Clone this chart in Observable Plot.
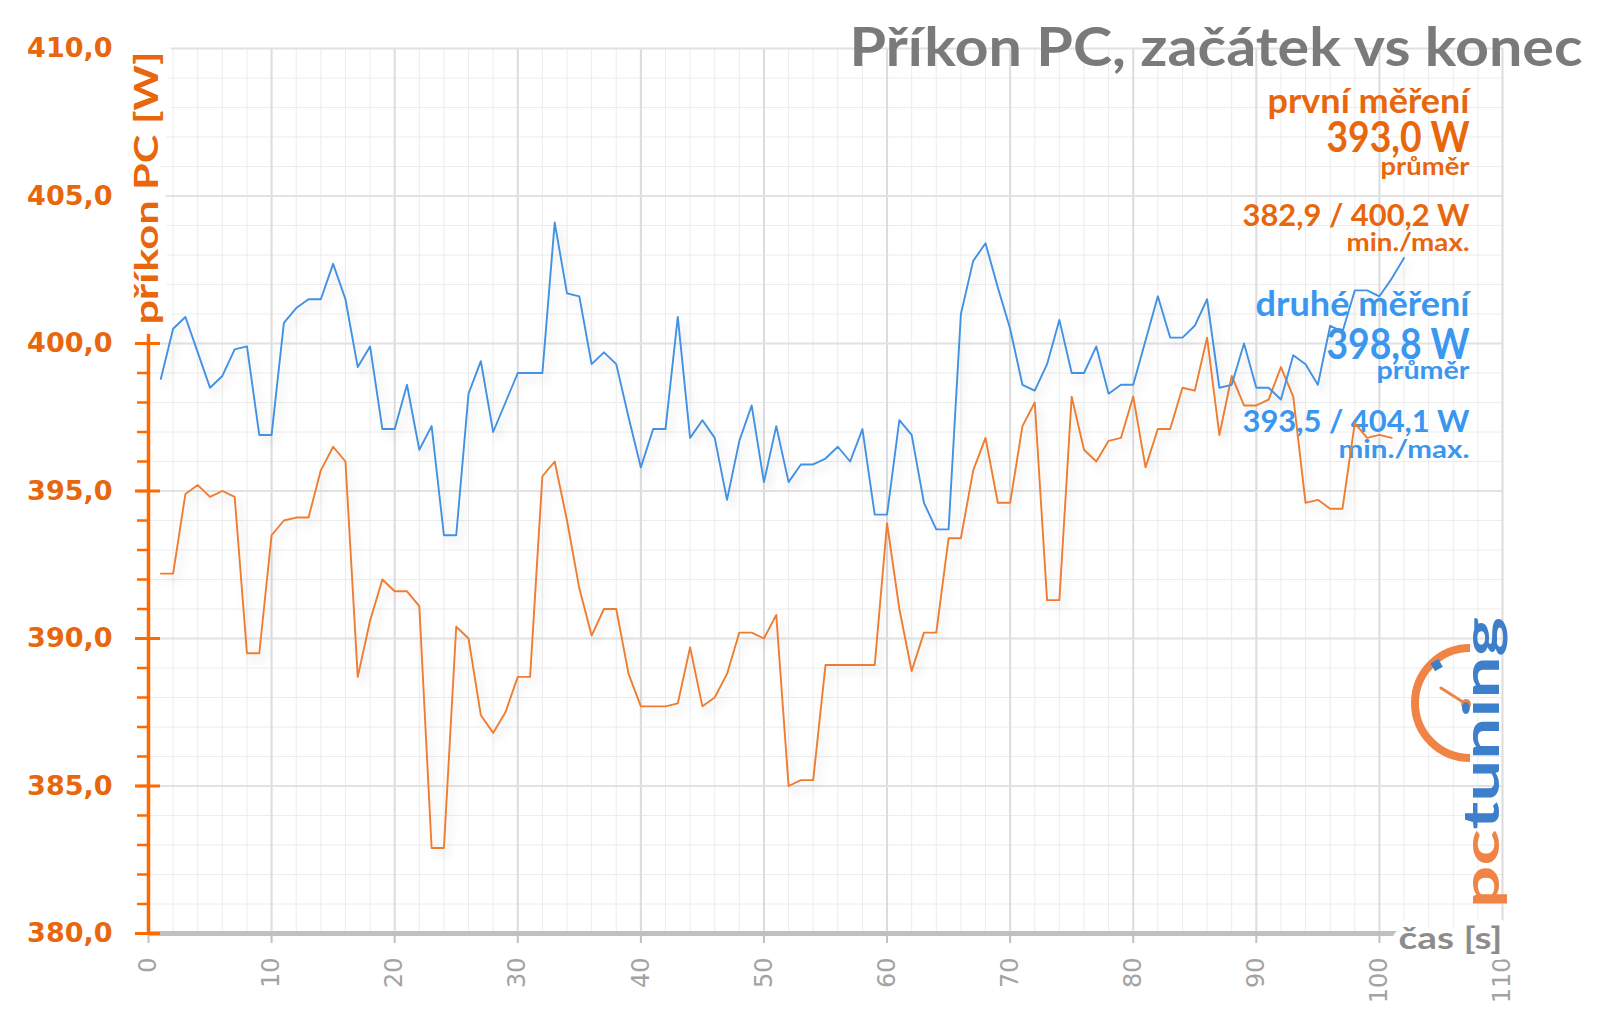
<!DOCTYPE html>
<html>
<head>
<meta charset="utf-8">
<script src="https://cdn.jsdelivr.net/npm/d3@7"></script>
<script src="https://cdn.jsdelivr.net/npm/@observablehq/plot@0.6"></script>
<style>
  html, body { margin: 0; padding: 0; background: #fff; }
  #wrap { position: relative; width: 1600px; height: 1017px; overflow: hidden; }
  #logo { position: absolute; left: 0; top: 0; pointer-events: none; }
</style>
</head>
<body>
<div id="wrap"><div id="chart"></div></div>
<script>
// ---------- data ----------
// power draw in W, one sample per second, starting at t = 1 s
const firstRun = [
  392.2, 392.2, 394.9, 395.2, 394.8, 395.0, 394.8, 389.5, 389.5, 393.5,
  394.0, 394.1, 394.1, 395.7, 396.5, 396.0, 388.7, 390.6, 392.0, 391.6,
  391.6, 391.1, 382.9, 382.9, 390.4, 390.0, 387.4, 386.8, 387.5, 388.7,
  388.7, 395.5, 396.0, 394.0, 391.7, 390.1, 391.0, 391.0, 388.8, 387.7,
  387.7, 387.7, 387.8, 389.7, 387.7, 388.0, 388.8, 390.2, 390.2, 390.0,
  390.8, 385.0, 385.2, 385.2, 389.1, 389.1, 389.1, 389.1, 389.1, 393.9,
  391.0, 388.9, 390.2, 390.2, 393.4, 393.4, 395.7, 396.8, 394.6, 394.6,
  397.2, 398.0, 391.3, 391.3, 398.2, 396.4, 396.0, 396.7, 396.8, 398.2,
  395.8, 397.1, 397.1, 398.5, 398.4, 400.2, 396.9, 398.9, 397.9, 397.9,
  398.1, 399.2, 398.2, 394.6, 394.7, 394.4, 394.4, 397.3, 396.8, 396.9,
  396.8
];
const secondRun = [
  398.8, 400.5, 400.9, 399.7, 398.5, 398.9, 399.8, 399.9, 396.9, 396.9,
  400.7, 401.2, 401.5, 401.5, 402.7, 401.5, 399.2, 399.9, 397.1, 397.1,
  398.6, 396.4, 397.2, 393.5, 393.5, 398.3, 399.4, 397.0, 398.0, 399.0,
  399.0, 399.0, 404.1, 401.7, 401.6, 399.3, 399.7, 399.3, 397.5, 395.8,
  397.1, 397.1, 400.9, 396.8, 397.4, 396.8, 394.7, 396.7, 397.9, 395.3,
  397.2, 395.3, 395.9, 395.9, 396.1, 396.5, 396.0, 397.1, 394.2, 394.2,
  397.4, 396.9, 394.6, 393.7, 393.7, 401.0, 402.8, 403.4, 401.9, 400.5,
  398.6, 398.4, 399.3, 400.8, 399.0, 399.0, 399.9, 398.3, 398.6, 398.6,
  400.1, 401.6, 400.2, 400.2, 400.6, 401.5, 398.5, 398.6, 400.0, 398.5,
  398.5, 398.1, 399.6, 399.3, 398.6, 400.6, 400.4, 401.8, 401.8, 401.6,
  402.2, 402.9
];
const seriesNames = ["první měření", "druhé měření"];
const seriesMean = [393.0, 398.8];
const seriesMin = [382.9, 393.5];
const seriesMax = [400.2, 404.1];

const xTicks = [0, 10, 20, 30, 40, 50, 60, 70, 80, 90, 100, 110];
const yTicks = [380, 385, 390, 395, 400, 405, 410];
const xMinorTicks = d3.range(0, 111, 2);
const yMinorTicks = d3.range(380, 411, 1);

const titleText = "Příkon PC, začátek vs konec";
const yLabelText = "příkon PC [W]";
const xLabelText = "čas [s]";
const meanText = "průměr";
const rangeText = "min./max.";

// ---------- styling ----------
const ORANGE_LINE = "#ee7d32";
const BLUE_LINE = "#4291e3";
const ORANGE_TEXT = "#e8660c";
const BLUE_TEXT = "#3a97f0";
const ORANGE_AXIS = "#ff6a00";
const LABEL_FONT = "Lato, 'Open Sans', sans-serif";

const fmt1 = v => v.toFixed(1).replace(".", ",");
const rows1 = firstRun.map((w, i) => ({t: i + 1, w}));
const rows2 = secondRun.map((w, i) => ({t: i + 1, w}));

// legend block texts with their target widths (for textLength)
const fits = [];
function note(text, cy, size, color, width) {
  fits.push({text, color, width});
  return Plot.text([text], {
    text: d => d, frameAnchor: "top-right", dx: -33, dy: cy - 48,
    textAnchor: "end", lineAnchor: "middle",
    fontSize: size, fontWeight: 700, fontFamily: LABEL_FONT, fill: color
  });
}

const legendMarks = [
  note(seriesNames[0], 102, 34, ORANGE_TEXT, 202),
  note(fmt1(seriesMean[0]) + " W", 138, 42, ORANGE_TEXT, 143),
  note(meanText, 166, 25, ORANGE_TEXT, 89),
  note(fmt1(seriesMin[0]) + " / " + fmt1(seriesMax[0]) + " W", 216, 31, ORANGE_TEXT, 227),
  note(rangeText, 242, 25, ORANGE_TEXT, 123),
  note(seriesNames[1], 305, 34, BLUE_TEXT, 214),
  note(fmt1(seriesMean[1]) + " W", 345, 42, BLUE_TEXT, 143),
  note(meanText, 370, 25, BLUE_TEXT, 93),
  note(fmt1(seriesMin[1]) + " / " + fmt1(seriesMax[1]) + " W", 422, 31, BLUE_TEXT, 227),
  note(rangeText, 449, 25, BLUE_TEXT, 131)
];
fits.push({text: titleText, color: "#7a7a7a", width: 733});
fits.push({text: yLabelText, color: ORANGE_TEXT, width: 273});
fits.push({text: xLabelText, color: "#8c8c8c", width: 104});

const chart = Plot.plot({
  width: 1600,
  height: 1017,
  marginLeft: 148,
  marginRight: 98,
  marginTop: 48,
  marginBottom: 84,
  x: {domain: [0, 110]},
  y: {domain: [380, 410]},
  style: {background: "#ffffff", fontFamily: LABEL_FONT, overflow: "visible"},
  marks: [
    // grid
    Plot.gridX({ticks: xMinorTicks, stroke: "#ececec", strokeOpacity: 1, strokeWidth: 1}),
    Plot.gridY({ticks: yMinorTicks, stroke: "#ececec", strokeOpacity: 1, strokeWidth: 1}),
    Plot.gridX({ticks: xTicks, stroke: "#dcdcdc", strokeOpacity: 1, strokeWidth: 2}),
    Plot.gridY({ticks: yTicks, stroke: "#e2e2e2", strokeOpacity: 1, strokeWidth: 2}),

    // legend block
    ...legendMarks,

    // series
    Plot.line(rows1, {x: "t", y: "w", stroke: ORANGE_LINE, strokeWidth: 1.9}),
    Plot.line(rows2, {x: "t", y: "w", stroke: BLUE_LINE, strokeWidth: 1.9}),

    // x axis
    Plot.ruleY([380], {stroke: "#c0c0c0", strokeWidth: 5}),
    Plot.axisX({
      ticks: xTicks, tickSize: 10, tickRotate: -90, tickPadding: 14,
      stroke: "#c0c0c0", strokeWidth: 2, fill: "#a3a3a3",
      fontSize: 24, fontFamily: "'DejaVu Sans', sans-serif", label: null
    }),
    Plot.text([xLabelText], {
      text: d => d, frameAnchor: "bottom-right", textAnchor: "end", lineAnchor: "middle",
      dy: 6, fontSize: 31, fontWeight: 700, fontFamily: LABEL_FONT,
      fill: "#8c8c8c", stroke: "white", strokeWidth: 12
    }),

    // y axis
    Plot.axisY({
      ticks: yMinorTicks, tickSize: 11, tickFormat: () => "",
      stroke: ORANGE_AXIS, strokeWidth: 2.5, label: null
    }),
    Plot.axisY({
      ticks: yTicks, tickSize: 25, dx: 12, tickPadding: 23, tickFormat: fmt1,
      stroke: ORANGE_AXIS, strokeWidth: 3, fill: ORANGE_TEXT,
      fontSize: 27, fontWeight: 700, fontFamily: "'DejaVu Sans', sans-serif", label: null
    }),
    Plot.ruleX([0], {stroke: ORANGE_AXIS, strokeWidth: 3.5}),
    Plot.text([yLabelText], {
      text: d => d, frameAnchor: "top-left", rotate: -90, textAnchor: "end", lineAnchor: "middle",
      dx: -1, dy: 3, fontSize: 33, fontWeight: 700, fontFamily: LABEL_FONT,
      fill: ORANGE_TEXT, stroke: "white", strokeWidth: 18
    }),

    // title
    Plot.text([titleText], {
      text: d => d, frameAnchor: "top-right", textAnchor: "end", lineAnchor: "middle",
      dx: 80, dy: 0, fontSize: 54, fontWeight: 700, fontFamily: LABEL_FONT, fill: "#7a7a7a"
    })
  ]
});

// fit text widths to the reference
d3.select(chart).selectAll("text").each(function () {
  const t = this.textContent;
  const g = this.closest("g");
  const fill = g ? g.getAttribute("fill") : null;
  const hit = fits.find(f => f.text === t && (fill === null || f.color === fill)) || fits.find(f => f.text === t);
  if (hit) {
    this.setAttribute("textLength", hit.width);
    this.setAttribute("lengthAdjust", "spacingAndGlyphs");
  }
});

// soft shadow under the lines
const svg = d3.select(chart);
const defs = svg.insert("defs", ":first-child");
const f = defs.append("filter").attr("id", "lineShadow")
  .attr("x", "-10%").attr("y", "-10%").attr("width", "120%").attr("height", "130%");
f.append("feDropShadow").attr("dx", 4).attr("dy", 6).attr("stdDeviation", 4)
  .attr("flood-color", "#000").attr("flood-opacity", 0.13);
svg.selectAll("g[aria-label='line']").attr("filter", "url(#lineShadow)");

document.getElementById("chart").appendChild(chart);

// pctuning logo (decoration)
const logo = `
<svg id="logo" width="1600" height="1017" xmlns="http://www.w3.org/2000/svg">
  <path d="M1470,648 A55,55 0 0 0 1470,758" fill="none" stroke="#f08446" stroke-width="8"/>
  <rect x="1432" y="661" width="9" height="9" fill="#3d7fca" transform="rotate(-30 1436 665)"/>
  <line x1="1441" y1="688" x2="1466" y2="704" stroke="#f08446" stroke-width="3" stroke-linecap="round"/>
  <circle cx="1466" cy="704" r="5" fill="#f08446"/>
  <text transform="translate(1499,908) rotate(-90)" font-family="Lato, 'DejaVu Sans', sans-serif"
        font-weight="700" font-size="50" textLength="291" lengthAdjust="spacingAndGlyphs">
    <tspan fill="#f08446">pc</tspan><tspan fill="#3d7fca">tuning</tspan>
  </text>
</svg>`;
document.getElementById("wrap").insertAdjacentHTML("beforeend", logo);
</script>
</body>
</html>
